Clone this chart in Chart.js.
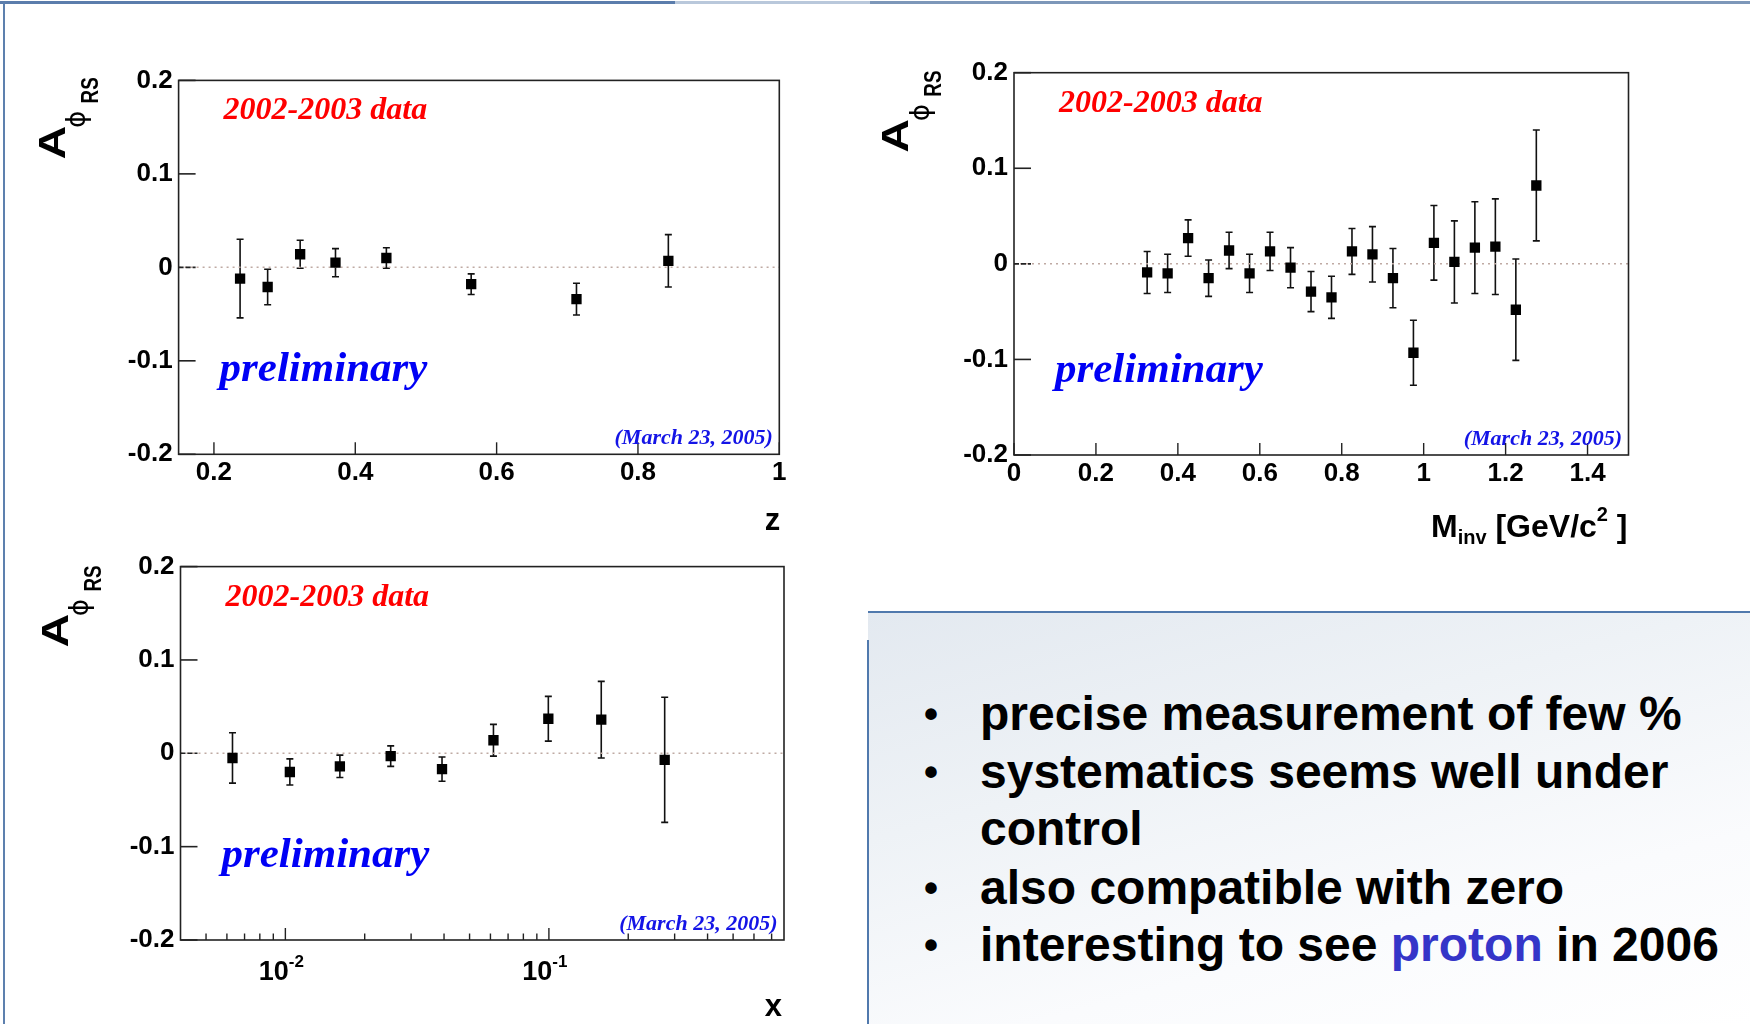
<!DOCTYPE html>
<html>
<head>
<meta charset="utf-8">
<title>A_phi RS asymmetry</title>
<script src="https://cdn.jsdelivr.net/npm/chart.js@4.4.1/dist/chart.umd.min.js"></script>
<style>
  html, body { margin: 0; padding: 0; background: #fff; }
  body { width: 1750px; height: 1024px; position: relative; overflow: hidden; font-family: "Liberation Sans", Arial, sans-serif; }
  canvas { position: absolute; display: block; }
  .bar-top { position: absolute; top: 1px; height: 3px; }
  .bar-left { position: absolute; left: 3px; top: 2px; width: 2px; height: 1022px; background: #5d80ae; }
  .notes { position: absolute; left: 868px; top: 611px; width: 882px; height: 413px;
           border-top: 2px solid #5079ad;
           background: linear-gradient(165deg, #e3e9f0 0%, #eef2f6 35%, #fafbfd 70%, #ffffff 100%); }
  .notes-edge { position: absolute; left: 867px; top: 640px; width: 2px; height: 384px; background: #5079ad; }
  .li { position: absolute; left: 980px; height: 58px; line-height: 58px; font-size: 48px; font-weight: bold; color: #000; white-space: nowrap; }
  .li.bullet::before { content: "\2022"; position: absolute; left: -56px; font-size: 40px; }
  .li .hl { color: #3535c8; }
</style>
</head>
<body>
<div class="bar-top" style="left:0;width:675px;background:#5b7dac;"></div>
<div class="bar-top" style="left:675px;width:195px;background:#b9c8db;"></div>
<div class="bar-top" style="left:870px;width:880px;background:#7d97b9;"></div>
<div class="bar-left"></div>

<canvas id="zChart"></canvas>
<canvas id="mChart"></canvas>
<canvas id="xChart"></canvas>

<div class="notes"></div>
<div class="notes-edge"></div>
<div class="li bullet" style="top:685px">precise measurement of few %</div>
<div class="li bullet" style="top:743px">systematics seems well under</div>
<div class="li" style="top:800px;">control</div>
<div class="li bullet" style="top:859px">also compatible with zero</div>
<div class="li bullet" style="top:916px">interesting to see <span class="hl">proton</span> in 2006</div>

<script>
// shared asymmetry axis
const yTicks = [-0.2, -0.1, 0, 0.1, 0.2];
const yTickLabels = ['-0.2', '-0.1', '0', '0.1', '0.2'];

// A vs z
const zRange = [0.15, 1.0];
const zTicks = [0.2, 0.4, 0.6, 0.8, 1.0];
const zTickLabels = ['0.2', '0.4', '0.6', '0.8', '1'];
const zBins = [0.237, 0.276, 0.322, 0.372, 0.444, 0.564, 0.713, 0.843];
const zAsym = [-0.012, -0.021, 0.014, 0.005, 0.010, -0.018, -0.034, 0.007];
const zErr = [0.042, 0.019, 0.015, 0.015, 0.011, 0.011, 0.017, 0.028];

// A vs invariant mass
const mRange = [0, 1.5];
const mTicks = [0, 0.2, 0.4, 0.6, 0.8, 1.0, 1.2, 1.4];
const mTickLabels = ['0', '0.2', '0.4', '0.6', '0.8', '1', '1.2', '1.4'];
const mBins = [0.325, 0.375, 0.425, 0.475, 0.525, 0.575, 0.625, 0.675, 0.725, 0.775,
               0.825, 0.875, 0.925, 0.975, 1.025, 1.075, 1.125, 1.175, 1.225, 1.275];
const mAsym = [-0.009, -0.010, 0.027, -0.015, 0.014, -0.010, 0.013, -0.004, -0.029, -0.035,
               0.013, 0.010, -0.015, -0.093, 0.022, 0.002, 0.017, 0.018, -0.048, 0.082];
const mErr = [0.022, 0.020, 0.019, 0.019, 0.019, 0.020, 0.020, 0.021, 0.021, 0.022,
              0.024, 0.029, 0.031, 0.034, 0.039, 0.043, 0.048, 0.050, 0.053, 0.058];

// A vs Bjorken x (log axis)
const xRange = [0.004, 0.78];
const xMajorTicks = [0.01, 0.1];
const xMajorExp = ['-2', '-1'];
const xMinorTicks = [0.005, 0.006, 0.007, 0.008, 0.009, 0.02, 0.03, 0.04, 0.05,
                     0.06, 0.07, 0.08, 0.09, 0.2, 0.3, 0.4, 0.5, 0.6, 0.7];
const xBins = [0.0063, 0.0104, 0.0161, 0.0251, 0.0393, 0.0616, 0.0995, 0.158, 0.275];
const xAsym = [-0.005, -0.020, -0.014, -0.003, -0.017, 0.014, 0.037, 0.036, -0.007];
const xErr = [0.027, 0.014, 0.012, 0.011, 0.013, 0.017, 0.024, 0.041, 0.067];

const dataTag = '2002-2003 data';
const prelimTag = 'preliminary';
const dateTag = '(March 23, 2005)';

const SANS = '"Liberation Sans", Arial, sans-serif';
const SERIF = '"Liberation Serif", "Times New Roman", serif';
const AXIS_W = 110;
const AXIS_H = 45;

// draws a run of text pieces (sub/superscripts) on one baseline
function drawRich(ctx, parts, x, y, align) {
  let w = 0;
  parts.forEach(p => { ctx.font = p.font; w += ctx.measureText(p.text).width; });
  let cx = align === 'right' ? x - w : align === 'center' ? x - w / 2 : x;
  ctx.textAlign = 'left';
  ctx.textBaseline = 'alphabetic';
  parts.forEach(p => {
    ctx.font = p.font;
    ctx.fillText(p.text, cx, y + (p.dy || 0));
    cx += ctx.measureText(p.text).width;
  });
}

// rotated "A phi RS" title; x = baseline of the A, y = where the text starts
function drawYTitle(ctx, x, y) {
  ctx.save();
  ctx.translate(x, y);
  ctx.rotate(-Math.PI / 2);
  ctx.fillStyle = '#000';
  ctx.textAlign = 'left';
  ctx.textBaseline = 'alphabetic';
  ctx.save();
  ctx.scale(1.3, 1);
  ctx.font = 'bold 36px ' + SANS;
  ctx.fillText('A', 0, 0);
  ctx.restore();
  ctx.font = '26px "DejaVu Sans"';
  ctx.textAlign = 'center';
  ctx.textBaseline = 'middle';
  ctx.fillText('\u03D5', 40, 14);
  ctx.textAlign = 'left';
  ctx.textBaseline = 'alphabetic';
  ctx.save();
  ctx.translate(56, 33);
  ctx.scale(1.05, 1.3);
  ctx.font = 'bold 18px ' + SANS;
  ctx.fillText('RS', 0, 0);
  ctx.restore();
  ctx.restore();
}

function rootDecor(cfg) {
  return {
    id: 'rootDecor',
    beforeDatasetsDraw(chart) {
      // error bars with small caps
      const ctx = chart.ctx, xs = chart.scales.x, ys = chart.scales.y;
      ctx.save();
      ctx.strokeStyle = '#111';
      ctx.lineWidth = 1.6;
      cfg.bins.forEach((b, i) => {
        const px = xs.getPixelForValue(b);
        const yTop = ys.getPixelForValue(cfg.vals[i] + cfg.errs[i]);
        const yBot = ys.getPixelForValue(cfg.vals[i] - cfg.errs[i]);
        ctx.beginPath();
        ctx.moveTo(px, yTop); ctx.lineTo(px, yBot);
        ctx.moveTo(px - 3.5, yTop); ctx.lineTo(px + 3.5, yTop);
        ctx.moveTo(px - 3.5, yBot); ctx.lineTo(px + 3.5, yBot);
        ctx.stroke();
      });
      ctx.restore();
    },
    afterDraw(chart) {
      const ctx = chart.ctx, a = chart.chartArea, xs = chart.scales.x, ys = chart.scales.y;
      ctx.save();
      // frame
      ctx.strokeStyle = '#222';
      ctx.lineWidth = 1.6;
      ctx.strokeRect(a.left, a.top, a.right - a.left, a.bottom - a.top);
      // inward ticks on the left axis
      yTicks.forEach(v => {
        const py = ys.getPixelForValue(v);
        ctx.setLineDash(v === 0 ? [5, 2] : []);
        ctx.beginPath();
        ctx.moveTo(a.left, py); ctx.lineTo(a.left + 17, py);
        ctx.stroke();
      });
      ctx.setLineDash([]);
      // inward ticks on the bottom axis
      ctx.lineWidth = 1.4;
      cfg.xMajor.forEach(v => {
        const px = xs.getPixelForValue(v);
        ctx.beginPath(); ctx.moveTo(px, a.bottom); ctx.lineTo(px, a.bottom - 12); ctx.stroke();
      });
      cfg.xMinor.forEach(v => {
        const px = xs.getPixelForValue(v);
        ctx.beginPath(); ctx.moveTo(px, a.bottom); ctx.lineTo(px, a.bottom - 6.5); ctx.stroke();
      });
      ctx.fillStyle = '#000';
      // 10^n labels for the log axis
      if (cfg.logLabels) {
        xMajorTicks.forEach((v, i) => {
          drawRich(ctx, [
            { text: '10', font: 'bold 27px ' + SANS },
            { text: xMajorExp[i], font: 'bold 17px ' + SANS, dy: -13 }
          ], xs.getPixelForValue(v) - 4, a.bottom + 40, 'center');
        });
      }
      // in-frame annotations
      ctx.fillStyle = '#f00';
      ctx.textAlign = 'left';
      ctx.textBaseline = 'alphabetic';
      ctx.font = 'italic bold 32px ' + SERIF;
      ctx.fillText(dataTag, a.left + 45, a.top + 39);
      ctx.fillStyle = '#0000f5';
      ctx.font = 'italic bold 43px ' + SERIF;
      ctx.fillText(prelimTag, a.left + 41, a.bottom - 73.5);
      ctx.fillStyle = '#1414e6';
      ctx.font = 'italic bold 22px ' + SERIF;
      ctx.textAlign = 'right';
      ctx.fillText(dateTag, a.right - 6.5, a.bottom - 10);
      // axis titles
      ctx.fillStyle = '#000';
      drawYTitle(ctx, a.left + cfg.yTitleDx, a.top + cfg.yTitleDy);
      drawRich(ctx, cfg.xTitle, a.right + cfg.xTitleDx, a.bottom + cfg.xTitleDy, 'right');
      ctx.restore();
    }
  };
}

function buildPanel(id, box, frame, cfg) {
  const canvas = document.getElementById(id);
  canvas.width = box.w;
  canvas.height = box.h;
  canvas.style.left = box.l + 'px';
  canvas.style.top = box.t + 'px';
  const tickFont = { family: SANS, size: 26, weight: 'bold' };
  new Chart(canvas.getContext('2d'), {
    type: 'scatter',
    data: {
      datasets: [{
        data: cfg.bins.map((b, i) => ({ x: b, y: cfg.vals[i] })),
        pointStyle: 'rect',
        pointRadius: 7.3,
        pointBorderWidth: 0,
        backgroundColor: '#000'
      }, {
        data: [{ x: cfg.range[0], y: 0 }, { x: cfg.range[1], y: 0 }],
        showLine: true,
        pointRadius: 0,
        borderColor: '#bfaaa3',
        borderWidth: 1.5,
        borderDash: [2, 4]
      }]
    },
    options: {
      responsive: false,
      animation: false,
      events: [],
      devicePixelRatio: 1,
      layout: {
        padding: {
          left: frame.l - box.l - AXIS_W,
          top: frame.t - box.t,
          right: box.l + box.w - frame.r,
          bottom: box.t + box.h - frame.b - AXIS_H
        }
      },
      plugins: { legend: { display: false }, tooltip: { enabled: false } },
      scales: {
        x: {
          type: cfg.log ? 'logarithmic' : 'linear',
          min: cfg.range[0],
          max: cfg.range[1],
          grid: { display: false, drawTicks: false },
          border: { display: false },
          afterBuildTicks: s => { s.ticks = cfg.xLabelTicks.map(v => ({ value: v })); },
          afterFit: s => { s.height = AXIS_H; },
          ticks: {
            display: !cfg.log,
            autoSkip: false,
            maxRotation: 0,
            padding: 3,
            color: '#000',
            font: tickFont,
            callback: (v, i) => cfg.xLabels[i]
          }
        },
        y: {
          type: 'linear',
          min: -0.2,
          max: 0.2,
          grid: { display: false, drawTicks: false },
          border: { display: false },
          afterBuildTicks: s => { s.ticks = yTicks.map(v => ({ value: v })); },
          afterFit: s => { s.width = AXIS_W; },
          ticks: {
            autoSkip: false,
            padding: 6,
            color: '#000',
            font: tickFont,
            callback: (v, i) => yTickLabels[i]
          }
        }
      }
    },
    plugins: [rootDecor(cfg)]
  });
}

buildPanel('zChart', { l: 0, t: 0, w: 860, h: 545 },
  { l: 178.6, t: 80.4, r: 779.3, b: 454.3 }, {
    bins: zBins, vals: zAsym, errs: zErr, range: zRange,
    xLabelTicks: zTicks, xLabels: zTickLabels, xMajor: zTicks, xMinor: [],
    yTitleDx: -114, yTitleDy: 79,
    xTitle: [{ text: 'z', font: 'bold 31px ' + SANS }], xTitleDx: 1, xTitleDy: 76
  });

buildPanel('mChart', { l: 870, t: 0, w: 880, h: 600 },
  { l: 1014, t: 72.7, r: 1628.5, b: 455 }, {
    bins: mBins, vals: mAsym, errs: mErr, range: mRange,
    xLabelTicks: mTicks, xLabels: mTickLabels, xMajor: mTicks, xMinor: [],
    yTitleDx: -106, yTitleDy: 80,
    xTitle: [
      { text: 'M', font: 'bold 32px ' + SANS },
      { text: 'inv', font: 'bold 20px ' + SANS, dy: 7 },
      { text: ' [GeV/c', font: 'bold 32px ' + SANS },
      { text: '2', font: 'bold 20px ' + SANS, dy: -16 },
      { text: ' ]', font: 'bold 32px ' + SANS }
    ], xTitleDx: -1, xTitleDy: 82
  });

buildPanel('xChart', { l: 0, t: 545, w: 860, h: 479 },
  { l: 180.5, t: 564.7, r: 784, b: 940 }, {
    bins: xBins, vals: xAsym, errs: xErr, range: xRange, log: true,
    xLabelTicks: xMajorTicks, xLabels: ['', ''], xMajor: xMajorTicks, xMinor: xMinorTicks,
    logLabels: true,
    yTitleDx: -113, yTitleDy: 81,
    xTitle: [{ text: 'x', font: 'bold 31px ' + SANS }], xTitleDx: -2, xTitleDy: 76
  });
</script>
</body>
</html>
